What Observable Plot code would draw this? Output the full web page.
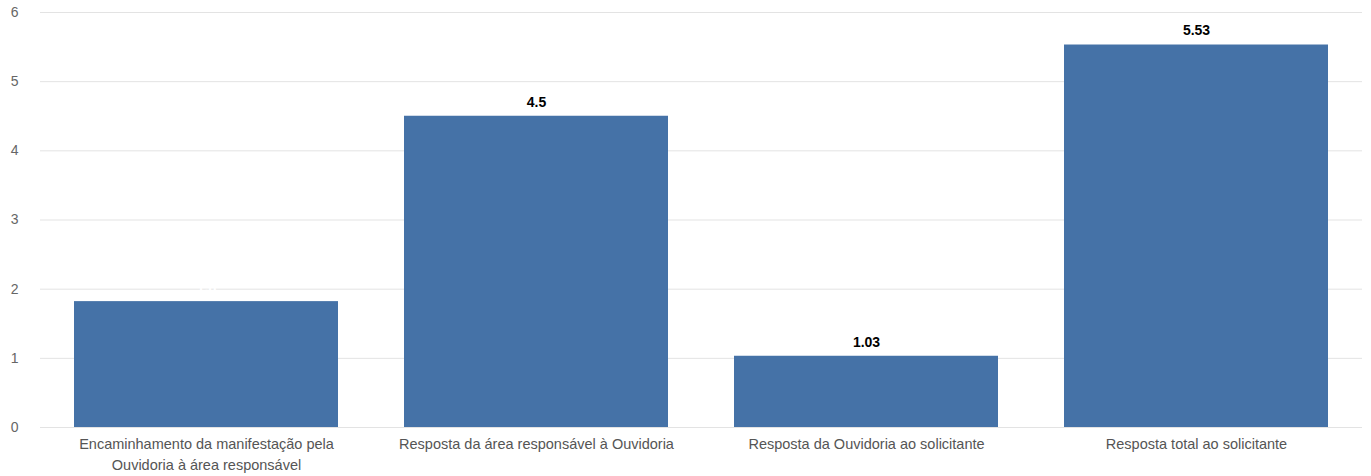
<!DOCTYPE html>
<html><head><meta charset="utf-8">
<script src="https://cdn.jsdelivr.net/npm/d3@7"></script>
<script src="https://cdn.jsdelivr.net/npm/@observablehq/plot@0.6"></script>
<style>body{margin:0;background:#fff;font-family:"Liberation Sans",Arial,sans-serif}</style>
</head><body><div id="chart"></div>
<script>
const categories = [
  "Encaminhamento da manifestação pela\nOuvidoria à área responsável",
  "Resposta da área responsável à Ouvidoria",
  "Resposta da Ouvidoria ao solicitante",
  "Resposta total ao solicitante"
];
const values = [1.82, 4.5, 1.03, 5.53];
const labels = ["1.8", "4.5", "1.03", "5.53"];
const labelColors = ["#ffffff", "#000000", "#000000", "#000000"];
const yTicks = [0, 1, 2, 3, 4, 5, 6];

const data = categories.map((c, i) => ({c, v: values[i], l: labels[i], col: labelColors[i]}));

const chart = Plot.plot({
  width: 1371, height: 476,
  marginLeft: 40, marginRight: 9, marginTop: 12, marginBottom: 49,
  style: {fontFamily: '"Liberation Sans", Arial, sans-serif', fontSize: "14px", background: "#fff"},
  x: {domain: categories, paddingInner: 0.2, paddingOuter: 0.1, label: null},
  y: {domain: [0, 6], label: null},
  marks: [
    Plot.gridY(yTicks, {stroke: "#e3e3e3", strokeOpacity: 1, strokeWidth: 1}),
    Plot.axisY(yTicks, {tickSize: 0, tickPadding: 22, tickFormat: d => String(d), fill: "#666", fontSize: 14, label: null}),
    Plot.axisX({tickSize: 0, tickPadding: 7, fill: "#555", fontSize: 14.5, lineHeight: 1.45, label: null}),
    Plot.barY(data, {x: "c", y: "v", fill: "#4572a7"}),
    Plot.text(data, {x: "c", y: "v", text: "l", fill: "col", dy: -14, fontWeight: "bold", fontSize: 14})
  ]
});
document.getElementById("chart").appendChild(chart);
</script></body></html>
